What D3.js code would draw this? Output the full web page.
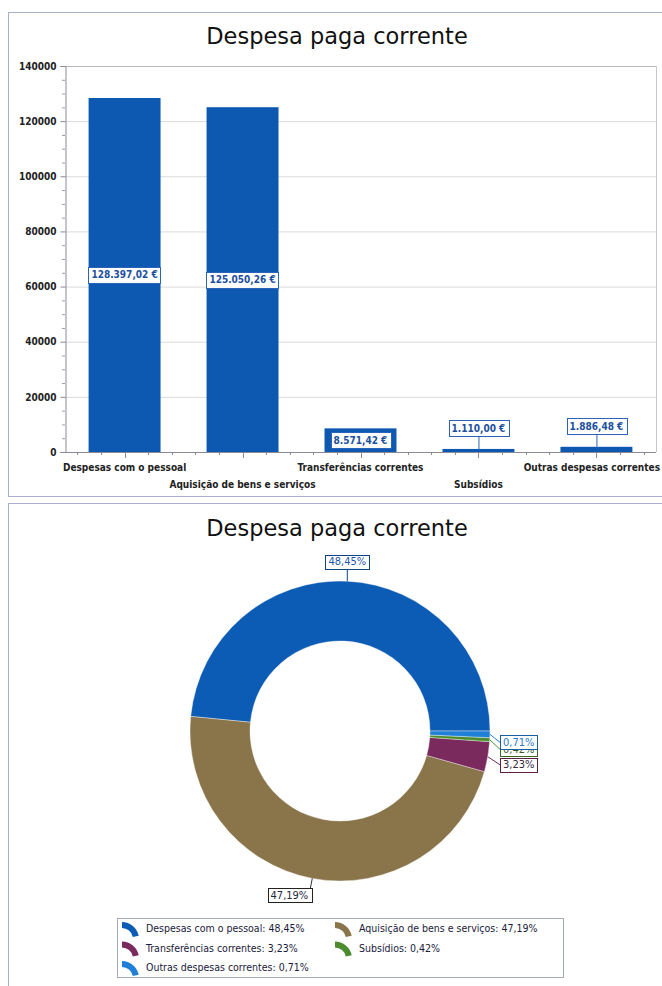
<!DOCTYPE html>
<html><head><meta charset="utf-8">
<script src="https://cdn.jsdelivr.net/npm/d3@7"></script>
<style>body{margin:0;background:#fff}svg{display:block}</style>
</head><body><svg id="c" width="662" height="986"></svg>
<script>
// ---- data ----
const chartTitle = "Despesa paga corrente";
const categories = ["Despesas com o pessoal","Aquisição de bens e serviços","Transferências correntes","Subsídios","Outras despesas correntes"];
const values = [128397.02, 125050.26, 8571.42, 1110.00, 1886.48];
const yTicks = [0, 20000, 40000, 60000, 80000, 100000, 120000, 140000];
// ---- style ----
const barColor = "#0d59b2";
const sliceColors = ["#0c5bb4", "#8a7449", "#7b2a5e", "#4d8c2e", "#2080d8"];
const labelInk = ["#1f56aa", "#26283a", "#35283a", "#3a5a2a", "#2a7acc"];
const condensed = "'DejaVu Sans Condensed','DejaVu Sans',sans-serif";

const svg = d3.select("#c");
const loc = d3.formatLocale({decimal: ",", thousands: ".", grouping: [3], currency: ["", " €"]});
const eur = v => loc.format(",.2f")(v) + " €";
const total = d3.sum(values);
const pct = v => loc.format(".2f")(v / total * 100) + "%";

function labelBox(g, txt, cxp, cyp, ink, border, fontSize, weight, anchor, bh) {
  bh = bh || 14;
  const t = g.append("text").text(txt)
    .attr("font-family", condensed).attr("font-size", fontSize).attr("font-weight", weight)
    .attr("fill", ink).attr("dominant-baseline", "central").attr("y", cyp);
  const w = t.node().getComputedTextLength();
  let left;
  if (anchor === "middle") left = cxp - w / 2 - 3;
  else if (anchor === "start") left = cxp;
  else left = cxp - w - 6;
  t.attr("x", left + 3);
  g.insert("rect", function(){ return t.node(); })
    .attr("x", Math.round(left) + 0.5).attr("y", Math.round(cyp - bh / 2) + 0.5).attr("width", Math.round(w + 6)).attr("height", bh)
    .attr("fill", "#fff").attr("stroke", border).attr("stroke-width", 1);
}

// ================= TOP PANEL: bar chart =================
svg.append("rect").attr("x", 8.5).attr("y", 12.5).attr("width", 680).attr("height", 484)
  .attr("fill", "none").attr("stroke", "#a9aec9");
svg.append("text").attr("x", 337).attr("y", 44).attr("text-anchor", "middle")
  .attr("font-family", "'DejaVu Sans',sans-serif").attr("font-size", 22.5).attr("fill", "#111")
  .text(chartTitle);

const x = d3.scaleBand().domain(categories).range([65, 656]).paddingInner(0.39).paddingOuter(0.2);
const y = d3.scaleLinear().domain([0, 140000]).range([452, 66]);

// gridlines
svg.append("g").selectAll("line").data(yTicks.filter(d => d > 0)).join("line")
  .attr("x1", 65).attr("x2", 656).attr("y1", d => y(d) + 0.5).attr("y2", d => y(d) + 0.5)
  .attr("stroke", d => d === 140000 ? "#b8b8c0" : "#dadada");
svg.append("line").attr("x1", 656.5).attr("x2", 656.5).attr("y1", 66).attr("y2", 452).attr("stroke", "#c8c8d0");

// y axis
const yAxis = svg.append("g").attr("transform", "translate(65.5,0)")
  .call(d3.axisLeft(y).tickValues(yTicks).tickFormat(d3.format("d")).tickSize(5).tickPadding(4));
yAxis.select(".domain").attr("stroke", "#8a8a96");
yAxis.selectAll(".tick line").attr("stroke", "#8a8a96");
yAxis.selectAll(".tick text").attr("font-family", condensed).attr("font-size", 10)
  .attr("font-weight", "bold").attr("fill", "#222");
svg.append("g").selectAll("line").data(d3.range(0, 140001, 5000).filter(d => d % 20000)).join("line")
  .attr("x1", 62).attr("x2", 65).attr("y1", d => y(d) + 0.5).attr("y2", d => y(d) + 0.5)
  .attr("stroke", "#9a9aa6");

// bars
svg.append("g").selectAll("rect").data(values).join("rect")
  .attr("x", (d, i) => x(categories[i])).attr("width", x.bandwidth())
  .attr("y", d => y(d)).attr("height", d => y(0) - y(d)).attr("fill", barColor);

// x axis
svg.append("line").attr("x1", 65).attr("x2", 656).attr("y1", 452.5).attr("y2", 452.5).attr("stroke", "#8a8a96");
const step = x.step();
const xt = [];
categories.forEach(c => { for (let k = -2; k <= 2; k++) xt.push({p: x(c) + x.bandwidth() / 2 + k * step / 5, major: k === 0}); });
svg.append("g").selectAll("line").data(xt).join("line")
  .attr("x1", d => Math.round(d.p) + 0.5).attr("x2", d => Math.round(d.p) + 0.5)
  .attr("y1", 452).attr("y2", d => d.major ? 458 : 455).attr("stroke", "#8a8a96");
svg.append("g").selectAll("text").data(categories).join("text")
  .attr("x", d => x(d) + x.bandwidth() / 2).attr("y", (d, i) => i % 2 ? 488 : 471)
  .attr("text-anchor", "middle").attr("font-family", condensed).attr("font-size", 10)
  .attr("font-weight", "bold").attr("fill", "#222").text(d => d)
  .each(function() {
    // keep label inside the page's right edge
    const w = this.getComputedTextLength();
    const cxl = +this.getAttribute("x");
    if (cxl + w / 2 > 660) this.setAttribute("x", 660 - w / 2);
  });

// bar value labels
const bl = svg.append("g");
values.forEach((v, i) => {
  const cxp = x(categories[i]) + x.bandwidth() / 2;
  const h = y(0) - y(v);
  if (h > 18) {
    labelBox(bl, eur(v), cxp, y(v / 2), "#1d4f9e", "#2b63b8", 10, "bold", "middle", 16);
  } else {
    const by = y(v) - 13 - 7.5;
    bl.append("line").attr("x1", cxp + 0.5).attr("x2", cxp + 0.5).attr("y1", by + 7).attr("y2", y(v))
      .attr("stroke", "#2b63b8");
    labelBox(bl, eur(v), cxp, by, "#1d4f9e", "#2b63b8", 10, "bold", "middle", 16);
  }
});

// ================= BOTTOM PANEL: donut =================
svg.append("rect").attr("x", 8.5).attr("y", 503.5).attr("width", 680).attr("height", 500)
  .attr("fill", "none").attr("stroke", "#a9aec9");
svg.append("text").attr("x", 337).attr("y", 536).attr("text-anchor", "middle")
  .attr("font-family", "'DejaVu Sans',sans-serif").attr("font-size", 22.5).attr("fill", "#111")
  .text(chartTitle);

const cx = 340, cy = 731, R = 150, r0 = 90;
const pie = d3.pie().sort(null).startAngle(Math.PI / 2).endAngle(Math.PI / 2 - 2 * Math.PI);
const slices = pie(values);
const arc = d3.arc().innerRadius(r0).outerRadius(R);
const dg = svg.append("g").attr("transform", `translate(${cx},${cy})`);
dg.selectAll("path").data(slices).join("path").attr("d", arc)
  .attr("fill", (d, i) => sliceColors[i]).attr("stroke", "rgba(255,255,255,0.55)").attr("stroke-width", 0.7);

// labels
const lg = svg.append("g");
const labs = slices.map((s, i) => {
  const a = (s.startAngle + s.endAngle) / 2;
  return {i, px: cx + R * Math.sin(a), py: cy - R * Math.cos(a)};
});
const rightSide = labs.filter(l => l.px - cx >= 0.35 * R).sort((a, b) => a.py - b.py);
let prev = -Infinity;
rightSide.forEach(l => { l.ly = Math.max(l.py + 8, prev + 7); prev = l.ly; });
labs.forEach(l => {
  const dx = l.px - cx, dy = l.py - cy;
  const ink = labelInk[l.i], txt = pct(values[l.i]);
  const border = d3.color(sliceColors[l.i]).darker(0.8);
  const g = lg.append("g");
  if (Math.abs(dx) < 0.35 * R) {
    if (dy < 0) {
      g.append("line").attr("x1", l.px).attr("x2", l.px).attr("y1", l.py).attr("y2", l.py - 12).attr("stroke", border);
      labelBox(g, txt, l.px, l.py - 19.5, ink, border, 11, "normal", "middle");
    } else {
      g.append("line").attr("x1", l.px).attr("x2", l.px - 2).attr("y1", l.py).attr("y2", l.py + 10).attr("stroke", "#333");
      labelBox(g, txt, l.px - 1, l.py + 17, ink, "#222", 11, "normal", "end");
    }
  } else {
    const left = cx + R + 10;
    g.append("line").attr("x1", l.px).attr("y1", l.py).attr("x2", left).attr("y2", l.ly).attr("stroke", sliceColors[l.i]);
    labelBox(g, txt, left, l.ly, ink, border, 11, "normal", "start");
  }
});

// legend
svg.append("rect").attr("x", 117.5).attr("y", 918.5).attr("width", 446).attr("height", 59)
  .attr("fill", "#fff").attr("stroke", "#a3a8c4");
const legPos = [[122, 928], [335, 928], [122, 947.5], [335, 947.5], [122, 967]];
const iconArc = d3.arc().innerRadius(11).outerRadius(17).startAngle(0).endAngle(1.38);
categories.forEach((c, i) => {
  const [lx, ly] = legPos[i];
  svg.append("path").attr("d", iconArc()).attr("transform", `translate(${lx},${ly + 11})`)
    .attr("fill", sliceColors[i]);
  svg.append("text").attr("x", lx + 24).attr("y", ly).attr("dominant-baseline", "central")
    .attr("font-family", condensed).attr("font-size", 10.5).attr("fill", "#1a1a3a")
    .text(`${c}: ${pct(values[i])}`);
});
</script></body></html>
